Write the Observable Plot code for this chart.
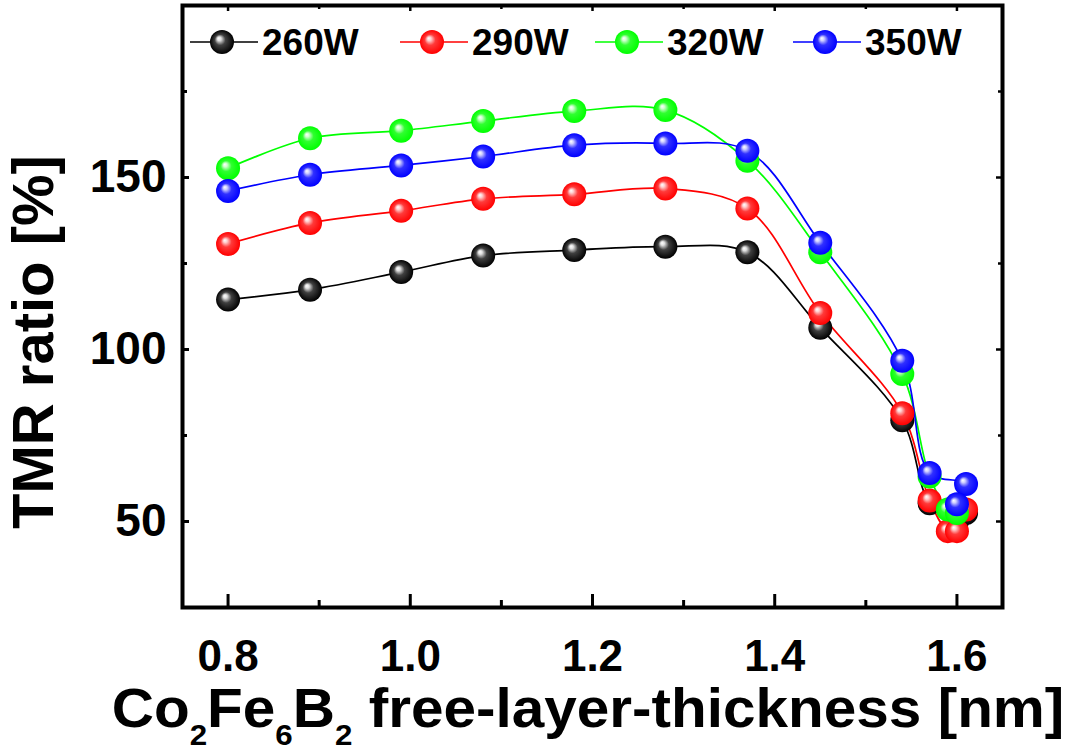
<!DOCTYPE html>
<html><head><meta charset="utf-8">
<script src="https://cdn.jsdelivr.net/npm/d3@7"></script>
<script src="https://cdn.jsdelivr.net/npm/@observablehq/plot@0.6"></script>
<style>html,body{margin:0;padding:0;background:#fff} svg{display:block}</style>
</head><body><div id="chart"></div>
<script>
// ---- data ----
const seriesNames = ["260W", "290W", "320W", "350W"];
const seriesColors = ["#000000", "#ff0000", "#00ff00", "#0000ff"];
const sphereLight = ["#e0e0e0", "#ffd0d0", "#d0ffd0", "#d0d0ff"];
const sphereMid = ["#404040", "#ff3a3a", "#30ff30", "#3030ff"];

const thickness260 = [0.80, 0.89, 0.99, 1.08, 1.18, 1.28, 1.37, 1.45, 1.54, 1.57, 1.60, 1.61];
const tmr260       = [114.5, 117.4, 122.5, 127.3, 128.9, 129.9, 128.3, 106.3, 79.4, 55.3, 50.0, 52.5];
const thickness290 = [0.80, 0.89, 0.99, 1.08, 1.18, 1.28, 1.37, 1.45, 1.54, 1.57, 1.59, 1.60, 1.61];
const tmr290       = [130.7, 136.8, 140.3, 143.8, 145.1, 146.8, 141.0, 110.6, 81.5, 56.1, 47.2, 47.2, 53.5];
const thickness320 = [0.80, 0.89, 0.99, 1.08, 1.18, 1.28, 1.37, 1.45, 1.54, 1.57, 1.59, 1.60];
const tmr320       = [152.7, 161.4, 163.6, 166.4, 169.3, 169.6, 154.9, 128.3, 92.9, 63.1, 53.5, 52.5];
const thickness350 = [0.80, 0.89, 0.99, 1.08, 1.18, 1.28, 1.37, 1.45, 1.54, 1.57, 1.61, 1.60];
const tmr350       = [146.1, 150.8, 153.5, 156.1, 159.4, 159.9, 157.8, 131.0, 96.7, 64.1, 60.9, 55.0];

const xTicks = [0.8, 1.0, 1.2, 1.4, 1.6];
const xMinorTicks = [0.9, 1.1, 1.3, 1.5];
const yTicks = [50, 100, 150, 200];
const yTickLabels = ["50", "100", "150", ""];
const yMinorTicks = [75, 125, 175];
const xDomain = [0.75, 1.65];
const yDomain = [25, 200];
const yTitle = "TMR ratio [%]";
const xTitleParts = [["Co", false], ["2", true], ["Fe", false], ["6", true], ["B", false], ["2", true], [" free-layer-thickness [nm]", false]];

const xs = [thickness260, thickness290, thickness320, thickness350];
const ys = [tmr260, tmr290, tmr320, tmr350];
const series = seriesNames.map((name, i) => ({
  name, color: seriesColors[i], grad: `sphere${i}`,
  rows: xs[i].map((x, j) => ({x, y: ys[i][j], series: name}))
}));

// ---- layout ----
const W = 1074, H = 751, mL = 182, mR = 72, mT = 5, mB = 144;
const innerW = W - mL - mR, innerH = H - mT - mB;
const sans = "'Liberation Sans', Arial, sans-serif";

const plot = Plot.plot({
  width: W, height: H,
  marginLeft: mL, marginRight: mR, marginTop: mT, marginBottom: mB,
  x: {domain: xDomain},
  y: {domain: yDomain},
  style: {background: "#fff", fontFamily: sans, color: "#000"},
  marks: [
    ...series.map(s => Plot.line(s.rows, {x: "x", y: "y", stroke: s.color, strokeWidth: 1.7, curve: "catmull-rom"})),
    ...series.map(s => Plot.dot(s.rows, {x: "x", y: "y", r: 12, fill: `url(#${s.grad})`, stroke: "none"})),
    // inward ticks
    Plot.ruleX(xTicks, {insetTop: innerH - 13, strokeWidth: 3, stroke: "#000"}),
    Plot.ruleX(xMinorTicks, {insetTop: innerH - 7, strokeWidth: 3, stroke: "#000"}),
    Plot.ruleX(xTicks, {insetBottom: innerH - 6, strokeWidth: 2.5, stroke: "#000"}),
    Plot.ruleX(xMinorTicks, {insetBottom: innerH - 4, strokeWidth: 2.5, stroke: "#000"}),
    Plot.ruleY(yTicks, {insetRight: innerW - 7, strokeWidth: 3, stroke: "#000"}),
    Plot.ruleY(yMinorTicks, {insetRight: innerW - 5, strokeWidth: 3, stroke: "#000"}),
    Plot.ruleY(yTicks, {insetLeft: innerW - 6, strokeWidth: 2.5, stroke: "#000"}),
    Plot.ruleY(yMinorTicks, {insetLeft: innerW - 4, strokeWidth: 2.5, stroke: "#000"}),
    Plot.frame({stroke: "#000", strokeWidth: 4}),
    Plot.axisX(xTicks, {tickSize: 0, tickPadding: 32, tickFormat: d => d.toFixed(1), fontSize: 44, fontWeight: "bold", fontFamily: sans, label: null}),
    Plot.axisY(yTicks, {tickSize: 0, tickPadding: 16, tickFormat: d => yTickLabels[yTicks.indexOf(d)], fontSize: 46, fontWeight: "bold", fontFamily: sans, label: null})
  ]
});
document.getElementById("chart").appendChild(plot);

const svg = d3.select(plot);

// ---- decorations: gradients, legend, titles ----
const defs = svg.insert("defs", ":first-child");
series.forEach((s, i) => {
  const g = defs.append("radialGradient").attr("id", s.grad)
    .attr("cx", "0.5").attr("cy", "0.5").attr("r", "0.5").attr("fx", "0.36").attr("fy", "0.34");
  g.append("stop").attr("offset", "0%").attr("stop-color", "#ffffff");
  g.append("stop").attr("offset", "16%").attr("stop-color", sphereLight[i]);
  g.append("stop").attr("offset", "45%").attr("stop-color", sphereMid[i]);
  g.append("stop").attr("offset", "100%").attr("stop-color", seriesColors[i]);
});

const legendX = [190, 400, 595, 793];
const legendY = 42;
const leg = svg.append("g");
series.forEach((s, i) => {
  const x0 = legendX[i];
  leg.append("line").attr("x1", x0).attr("x2", x0 + 68).attr("y1", legendY).attr("y2", legendY)
    .attr("stroke", s.color).attr("stroke-width", 1.7);
  leg.append("circle").attr("cx", x0 + 32).attr("cy", legendY).attr("r", 12).attr("fill", `url(#${s.grad})`);
  leg.append("text").attr("x", x0 + 72).attr("y", legendY + 13)
    .attr("text-anchor", "start")
    .attr("font-family", sans).attr("font-weight", "bold").attr("font-size", 37).attr("fill", "#000")
    .text(s.name);
});

svg.append("text")
  .attr("transform", `translate(53,342) rotate(-90)`)
  .attr("text-anchor", "middle")
  .attr("font-family", sans).attr("font-weight", "bold").attr("font-size", 58).attr("fill", "#000")
  .text(yTitle);

const xt = svg.append("text")
  .attr("text-anchor", "middle")
  .attr("font-family", sans).attr("font-weight", "bold").attr("font-size", 56).attr("fill", "#000");
let down = false;
xTitleParts.forEach(([t, sub]) => {
  const ts = xt.append("tspan").text(t);
  if (sub && !down) { ts.attr("dy", 18).attr("font-size", 30); down = true; }
  else if (sub) { ts.attr("font-size", 30); }
  else if (down) { ts.attr("dy", -18); down = false; }
});
const bw = xt.node().getBBox().width;
const sx = 953 / bw;
xt.attr("transform", `translate(588,727) scale(${sx},1)`);
</script>
</body></html>
